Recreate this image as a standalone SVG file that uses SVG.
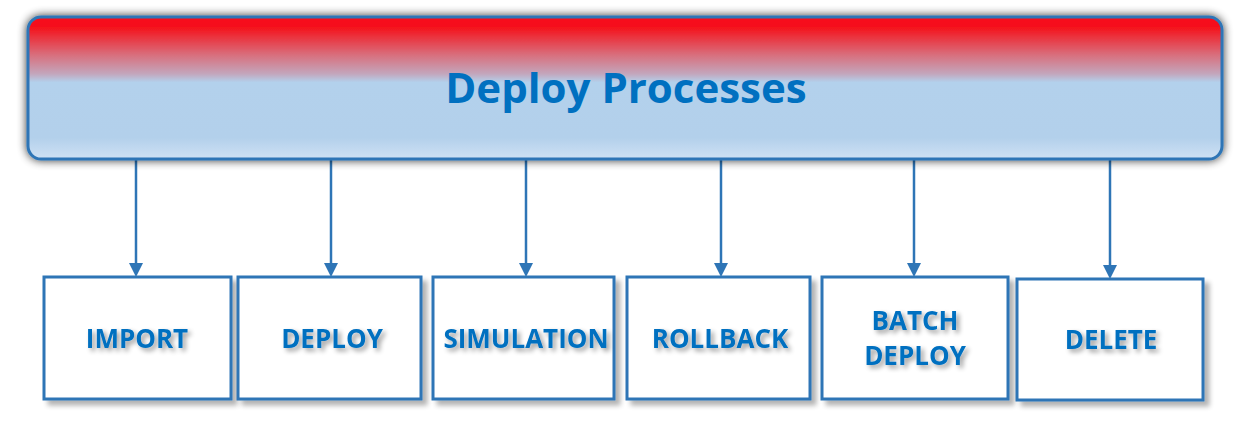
<svg xmlns="http://www.w3.org/2000/svg" width="1252" height="425" viewBox="0 0 1252 425">
<defs>
<linearGradient id="hdr" x1="0" y1="0" x2="0" y2="1">
<stop offset="0" stop-color="#F7101A"/>
<stop offset="0.07" stop-color="#F5111A"/>
<stop offset="0.27" stop-color="#D8707E"/>
<stop offset="0.40" stop-color="#C3A6BC"/>
<stop offset="0.46" stop-color="#B3D1EC"/>
<stop offset="0.85" stop-color="#B3D0EB"/>
<stop offset="1" stop-color="#CFE1F4"/>
</linearGradient>
<filter id="sh" x="-10%" y="-20%" width="120%" height="140%">
<feGaussianBlur in="SourceAlpha" stdDeviation="5"/>
<feOffset dx="0" dy="0"/>
<feComponentTransfer><feFuncA type="linear" slope="0.8"/></feComponentTransfer>
<feMerge><feMergeNode/><feMergeNode in="SourceGraphic"/></feMerge>
</filter>
<filter id="bsh" x="-10%" y="-10%" width="125%" height="125%">
<feGaussianBlur in="SourceAlpha" stdDeviation="2.5"/>
<feOffset dx="5" dy="5"/>
<feComponentTransfer><feFuncA type="linear" slope="0.3"/></feComponentTransfer>
<feMerge><feMergeNode/><feMergeNode in="SourceGraphic"/></feMerge>
</filter>
<filter id="tsh" x="-10%" y="-30%" width="130%" height="160%">
<feGaussianBlur in="SourceAlpha" stdDeviation="2.5"/>
<feOffset dx="3" dy="3"/>
<feComponentTransfer><feFuncA type="linear" slope="0.4"/></feComponentTransfer>
<feMerge><feMergeNode/><feMergeNode in="SourceGraphic"/></feMerge>
</filter>
<style>
.box{fill:#FFFFFF;stroke:#2E75B6;stroke-width:3;}
.lbl{font-family:"Open Sans","Noto Sans",sans-serif;font-weight:bold;font-size:26px;fill:#0070C0;text-anchor:middle;}
.conn{stroke:#2E75B6;stroke-width:2.5;fill:none;}
.ah{fill:#2E75B6;}
.ttl{font-family:"Open Sans","Noto Sans",sans-serif;font-weight:bold;font-size:42px;fill:#0070C0;text-anchor:middle;}
</style>
</defs>
<rect width="1252" height="425" fill="#FFFFFF"/>
<g id="connectors">
<path class="conn" d="M136,159 V265"/>
<path class="conn" d="M331,159 V265"/>
<path class="conn" d="M526,159 V265"/>
<path class="conn" d="M721,159 V265"/>
<path class="conn" d="M914,159 V265"/>
<path class="conn" d="M1110,159 V267"/>
<path class="ah" d="M129,263 L143,263 L136,277 Z"/>
<path class="ah" d="M324,263 L338,263 L331,277 Z"/>
<path class="ah" d="M519,263 L533,263 L526,277 Z"/>
<path class="ah" d="M714,263 L728,263 L721,277 Z"/>
<path class="ah" d="M907,263 L921,263 L914,277 Z"/>
<path class="ah" d="M1103,265 L1117,265 L1110,279 Z"/>
</g>
<g id="deploy-processes">
<rect x="28" y="17" width="1194" height="142" rx="13" fill="url(#hdr)" stroke="#2E75B6" stroke-width="3" filter="url(#sh)"/>
<text class="ttl" x="626" y="103">Deploy Processes</text>
</g>
<g id="import">
<rect class="box" x="44" y="277" width="187" height="122" filter="url(#bsh)"/>
<text class="lbl" x="137" y="348" filter="url(#tsh)">IMPORT</text>
</g>
<g id="deploy">
<rect class="box" x="238" y="277" width="183" height="122" filter="url(#bsh)"/>
<text class="lbl" x="332" y="348" filter="url(#tsh)">DEPLOY</text>
</g>
<g id="simulation">
<rect class="box" x="433" y="277" width="181" height="122" filter="url(#bsh)"/>
<text class="lbl" x="526" y="348" filter="url(#tsh)">SIMULATION</text>
</g>
<g id="rollback">
<rect class="box" x="627" y="277" width="183" height="122" filter="url(#bsh)"/>
<text class="lbl" x="720" y="348" filter="url(#tsh)">ROLLBACK</text>
</g>
<g id="batch-deploy">
<rect class="box" x="822" y="277" width="186" height="122" filter="url(#bsh)"/>
<text class="lbl" x="915" y="330" filter="url(#tsh)">BATCH</text>
<text class="lbl" x="915" y="365" filter="url(#tsh)">DEPLOY</text>
</g>
<g id="delete">
<rect class="box" x="1017" y="279" width="186" height="121" filter="url(#bsh)"/>
<text class="lbl" x="1111" y="349" filter="url(#tsh)">DELETE</text>
</g>
</svg>
